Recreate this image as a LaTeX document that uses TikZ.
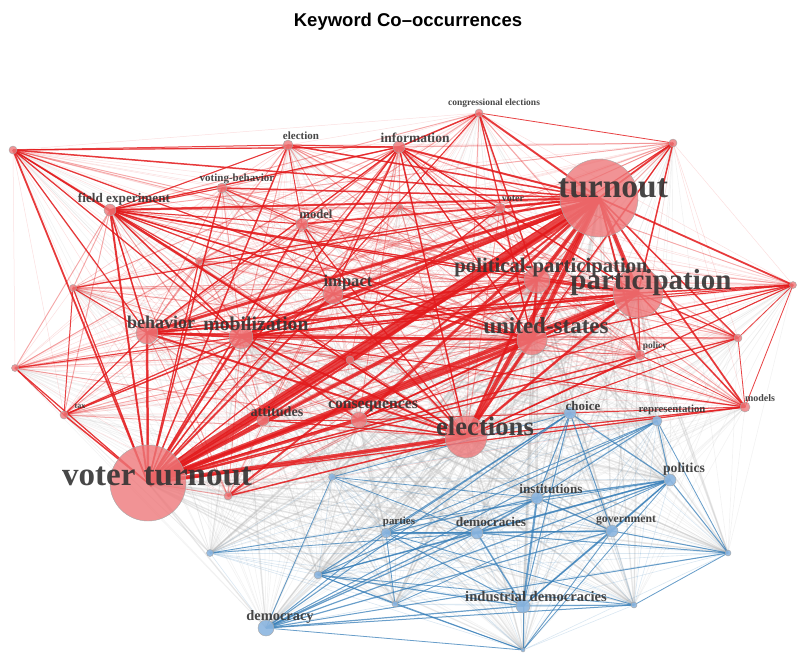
\documentclass[tikz,border=0pt]{standalone}
\usepackage{fontspec}
\setmainfont{Liberation Serif}
\newfontfamily\titlefont{Liberation Sans}
\newcommand\fsz[1]{\fontsize{#1}{#1}\selectfont}
\pgfdeclarelayer{edges}
\pgfsetlayers{edges,main}
\definecolor{ered}{RGB}{227,26,28}
\definecolor{eblue}{RGB}{55,126,184}
\definecolor{nred}{RGB}{238,120,122}
\definecolor{nblue}{RGB}{140,182,224}
\begin{document}
\begin{tikzpicture}[x=1pt,y=-1pt,
  rn/.style={circle, draw=gray!70, line width=0.4pt, fill=nred, fill opacity=0.8, inner sep=0pt, minimum size=#1},
  bn/.style={circle, draw=gray!70, line width=0.4pt, fill=nblue, fill opacity=0.9, inner sep=0pt, minimum size=#1},
  lbl/.style={text=black!80, text opacity=0.9, inner sep=0pt, font=\bfseries\fsz{#1}},
  redfaint/.style={ered, opacity=0.14, line width=0.5pt},
  redmid/.style={ered, opacity=0.3, line width=1pt},
  redstrong/.style={ered, opacity=0.8},
  grayfaint/.style={gray!70, opacity=0.13, line width=0.7pt},
  graymid/.style={gray!60, opacity=0.22, line width=1.5pt},
  bluefaint/.style={eblue, opacity=0.18, line width=0.6pt},
  bluestrong/.style={eblue, opacity=0.7}]
\useasboundingbox (0,0) rectangle (797,654);
\node[font=\titlefont\bfseries\fsz{18.5}] (title) at (408,22) {Keyword Co\textendash occurrences};
% red nodes
\node[rn=8pt] (r1) at (13,150) {};
\node[rn=10pt] (election) at (288,145) {};
\node[rn=12pt] (information) at (399,147) {};
\node[rn=8pt] (congress) at (479,113) {};
\node[rn=8pt] (r2) at (673,143) {};
\node[rn=10pt] (votbeh) at (222,188) {};
\node[rn=12pt] (field) at (110,210) {};
\node[rn=12pt] (model) at (302,224) {};
\node[rn=10pt] (voter) at (500,208) {};
\node[rn=78pt] (turnout) at (599,198) {};
\node[rn=7pt] (r3) at (199,261) {};
\node[rn=7pt] (r4) at (73,288) {};
\node[rn=20pt] (impact) at (333,294) {};
\node[rn=6pt] (r5) at (400,207) {};
\node[rn=26pt] (polpart) at (537,280) {};
\node[rn=50pt] (particip) at (638,293) {};
\node[rn=7pt] (r6) at (793,285) {};
\node[rn=22pt] (behavior) at (147,333) {};
\node[rn=24pt] (mobil) at (241,337) {};
\node[rn=30pt] (usa) at (532,340) {};
\node[rn=10pt] (policy) at (640,355) {};
\node[rn=8pt] (r7) at (738,338) {};
\node[rn=7pt] (r8) at (15,368) {};
\node[rn=8pt] (r9) at (64,415) {};
\node[rn=8pt] (r10) at (350,360) {};
\node[rn=12pt] (attitudes) at (263,420) {};
\node[rn=16pt] (conseq) at (359,420) {};
\node[rn=42pt] (elections) at (466,437) {};
\node[rn=10pt] (models) at (745,407) {};
\node[rn=76pt] (vt) at (148,483) {};
\node[rn=8pt] (r11) at (228,496) {};
% blue nodes
\node[bn=12pt] (choice) at (570,413) {};
\node[bn=10pt] (repr) at (657,421) {};
\node[bn=12pt] (politics) at (670,480) {};
\node[bn=12pt] (instit) at (537,498) {};
\node[bn=12pt] (democs) at (477,533) {};
\node[bn=12pt] (govt) at (612,531) {};
\node[bn=6pt] (b1) at (728,553) {};
\node[bn=14pt] (indem) at (523,606) {};
\node[bn=6pt] (b2) at (634,605) {};
\node[bn=4pt] (b3) at (523,650) {};
\node[bn=10pt] (parties) at (386,533) {};
\node[bn=16pt] (democracy) at (266,628) {};
\node[bn=7pt] (b4) at (332,477) {};
\node[bn=7pt] (b5) at (210,553) {};
\node[bn=8pt] (b6) at (318,575) {};
\node[bn=6pt] (b7) at (395,604) {};
% labels
\node[lbl=11] (election-l) at (301,136) {election};
\node[lbl=13.5] (information-l) at (415,138) {information};
\node[lbl=9.5] (congress-l) at (494,103) {congressional elections};
\node[lbl=11] (votbeh-l) at (237,179) {voting-behavior};
\node[lbl=13.2] (field-l) at (124,199) {field experiment};
\node[lbl=12.6] (model-l) at (316,214) {model};
\node[lbl=10] (voter-l) at (513,199) {voter};
\node[lbl=33.5] (turnout-l) at (613,188) {turnout};
\node[lbl=16.6] (impact-l) at (348,283) {impact};
\node[lbl=20.7] (polpart-l) at (551,268) {political-participation};
\node[lbl=29] (particip-l) at (651,283) {participation};
\node[lbl=18] (behavior-l) at (161,322) {behavior};
\node[lbl=19.7] (mobil-l) at (256,324) {mobilization};
\node[lbl=23] (usa-l) at (546,326) {united-states};
\node[lbl=9.4] (policy-l) at (655,346) {policy};
\node[lbl=8] (r9-l) at (80,406) {tax};
\node[lbl=14.2] (attitudes-l) at (277,412) {attitudes};
\node[lbl=15.7] (conseq-l) at (373,406) {consequences};
\node[lbl=26.7] (elections-l) at (485,426) {elections};
\node[lbl=10] (models-l) at (760,398) {models};
\node[lbl=33] (vt-l) at (157,476) {voter turnout};
\node[lbl=13] (choice-l) at (583,406) {choice};
\node[lbl=10.8] (repr-l) at (672,410) {representation};
\node[lbl=13.7] (politics-l) at (684,469) {politics};
\node[lbl=13.2] (instit-l) at (551,489) {institutions};
\node[lbl=13.3] (democs-l) at (491,522) {democracies};
\node[lbl=11.7] (govt-l) at (626,520) {government};
\node[lbl=14.6] (indem-l) at (536,597) {industrial democracies};
\node[lbl=10.9] (parties-l) at (399,522) {parties};
\node[lbl=14.4] (democracy-l) at (280,617) {democracy};
% edges
\def\rednodes{r1,election,information,congress,r2,votbeh,field,model,voter,turnout,r3,r4,impact,r5,polpart,particip,r6,behavior,mobil,usa,policy,r7,r8,r9,r10,attitudes,conseq,elections,models,vt,r11}
\def\bluenodes{choice,repr,politics,instit,democs,govt,b1,indem,b2,b3,parties,democracy,b4,b5,b6,b7}
\begin{pgfonlayer}{edges}
\foreach \a in \rednodes {\foreach \b in \bluenodes {\draw[grayfaint] (\a.center) -- (\b.center);}}
\foreach \a in {turnout,vt,elections,usa,particip,polpart,mobil,conseq} {\foreach \b in \bluenodes {\draw[graymid] (\a.center) -- (\b.center);}}
\foreach \a [count=\i] in \bluenodes {\foreach \b [count=\j] in \bluenodes {\ifnum\j>\i \draw[bluefaint] (\a.center) -- (\b.center);\fi}}
\foreach \a [count=\i] in \rednodes {\foreach \b [count=\j] in \rednodes {\ifnum\j>\i \draw[redfaint] (\a.center) -- (\b.center);\fi}}
\foreach \a in {turnout,vt,elections,usa,particip,polpart,mobil,behavior,information,field} {\foreach \b in \rednodes {\draw[redmid] (\a.center) -- (\b.center);}}
\foreach \a/\b/\w in {turnout/vt/10, turnout/usa/4.5, turnout/elections/4.5, turnout/particip/4, turnout/polpart/4, turnout/mobil/3.5, turnout/behavior/3, turnout/impact/2.5, turnout/information/2, turnout/congress/2, turnout/r2/1.8, turnout/field/2, turnout/model/1.8, turnout/conseq/3, turnout/attitudes/2, turnout/policy/1.8, turnout/r6/1.8, turnout/models/1.8, turnout/r7/1.5, turnout/voter/1.5, turnout/election/1.5, turnout/votbeh/1.5, turnout/r1/1.5, turnout/r11/2, turnout/r10/1.5, turnout/r3/1.2, turnout/r4/1.2, turnout/r9/1.5,
 vt/particip/4.5, vt/usa/4, vt/elections/4, vt/polpart/3.5, vt/mobil/2.5, vt/behavior/2.5, vt/field/2, vt/r1/1.8, vt/impact/2, vt/conseq/3, vt/attitudes/1.5, vt/information/1.5, vt/election/1.5, vt/model/1.5, vt/votbeh/1.5, vt/r4/1.2, vt/r8/1.2, vt/r9/1.5, vt/policy/1.5, vt/r7/1.2, vt/models/1.2, vt/r3/1.2, vt/r10/1.5, vt/r2/1, vt/congress/1, vt/r6/1, vt/voter/1.2,
 elections/usa/3, elections/particip/2.5, elections/polpart/2.5, elections/mobil/2, elections/behavior/2, elections/field/1.5, elections/information/1.5, elections/impact/1.5, elections/conseq/1.5, elections/r1/1, elections/models/1.2, elections/policy/1.2, elections/r7/1, elections/r6/1, elections/model/1.2, elections/r11/1.5, elections/attitudes/1.2,
 usa/particip/2.5, usa/polpart/2.5, usa/mobil/2, usa/behavior/1.5, usa/field/1.5, usa/r1/1.2, usa/information/1.2, usa/impact/1.5, usa/congress/1.2, usa/r2/1.2, usa/r6/1.2, usa/conseq/1.5,
 particip/polpart/2.5, particip/mobil/2, particip/behavior/1.5, particip/r6/1.5, particip/r7/1.2, particip/models/1.5, particip/policy/1.2, particip/information/1.2, particip/field/1.2, particip/r2/1.5, particip/conseq/1.2,
 polpart/mobil/1.5, polpart/behavior/1.5, polpart/congress/1.5, polpart/information/1.5, polpart/field/1.2,
 mobil/behavior/2, mobil/field/1.5, mobil/impact/1.5, mobil/r1/1.2, mobil/conseq/1.5, mobil/r8/1,
 behavior/field/1.5, behavior/r1/1.2, behavior/r4/1, behavior/r9/1.2, behavior/information/1.2,
 r1/field/1.5, r1/information/1.2, r1/election/1, field/information/1.2, field/model/1, field/election/1, field/impact/1.2,
 information/congress/1.5, information/election/1, information/impact/1.2, congress/r2/0.8,
 r6/models/0.8, r6/r7/0.8, r6/behavior/1, r6/mobil/1, models/r7/0.8, models/policy/0.8, models/conseq/1, models/mobil/1,
 r9/r4/1, r9/mobil/1, r9/r8/1, r3/field/1, election/model/1, votbeh/model/1, votbeh/field/1, impact/model/1.2, conseq/attitudes/1}
 {\draw[redstrong, line width=\w pt] (\a.center) -- (\b.center);}
\foreach \a/\b/\w in {indem/instit/2, indem/democs/1.5, indem/govt/1.2, indem/politics/1.2, indem/democracy/1.2, indem/b2/1, indem/b3/1, indem/parties/1, indem/b6/1.2,
 instit/democs/1.5, instit/politics/1.5, instit/govt/1.2, instit/parties/1.2, instit/democracy/1.2, instit/b4/0.8, instit/repr/1, instit/choice/1,
 democs/politics/1.5, democs/govt/1.5, democs/parties/1.5, democs/democracy/1.2, democs/b1/1, democs/b6/1,
 govt/politics/1.2, govt/democracy/1.2, govt/b1/1, govt/parties/1, govt/choice/1,
 politics/b1/1, politics/b6/1.2, politics/democracy/1.2, politics/repr/1, politics/choice/1.2, politics/b7/0.8,
 repr/democracy/1, repr/b6/1, repr/b1/0.8, repr/parties/0.8, choice/parties/1, choice/democracy/1, choice/b6/1, choice/indem/1,
 parties/democracy/1, parties/b2/0.8, parties/b7/0.8, b4/democs/0.8, b4/democracy/0.8, b4/choice/0.8, b5/politics/0.8, b5/democs/0.8,
 b6/b2/0.8, b6/b7/0.8, b1/b2/0.8, b3/democracy/0.8, b3/politics/0.8, b3/govt/0.8, b3/b6/0.8, b3/b7/0.8, democracy/b2/1, democracy/b1/1}
 {\draw[bluestrong, line width=\w pt] (\a.center) -- (\b.center);}
\end{pgfonlayer}
\end{tikzpicture}
\end{document}
